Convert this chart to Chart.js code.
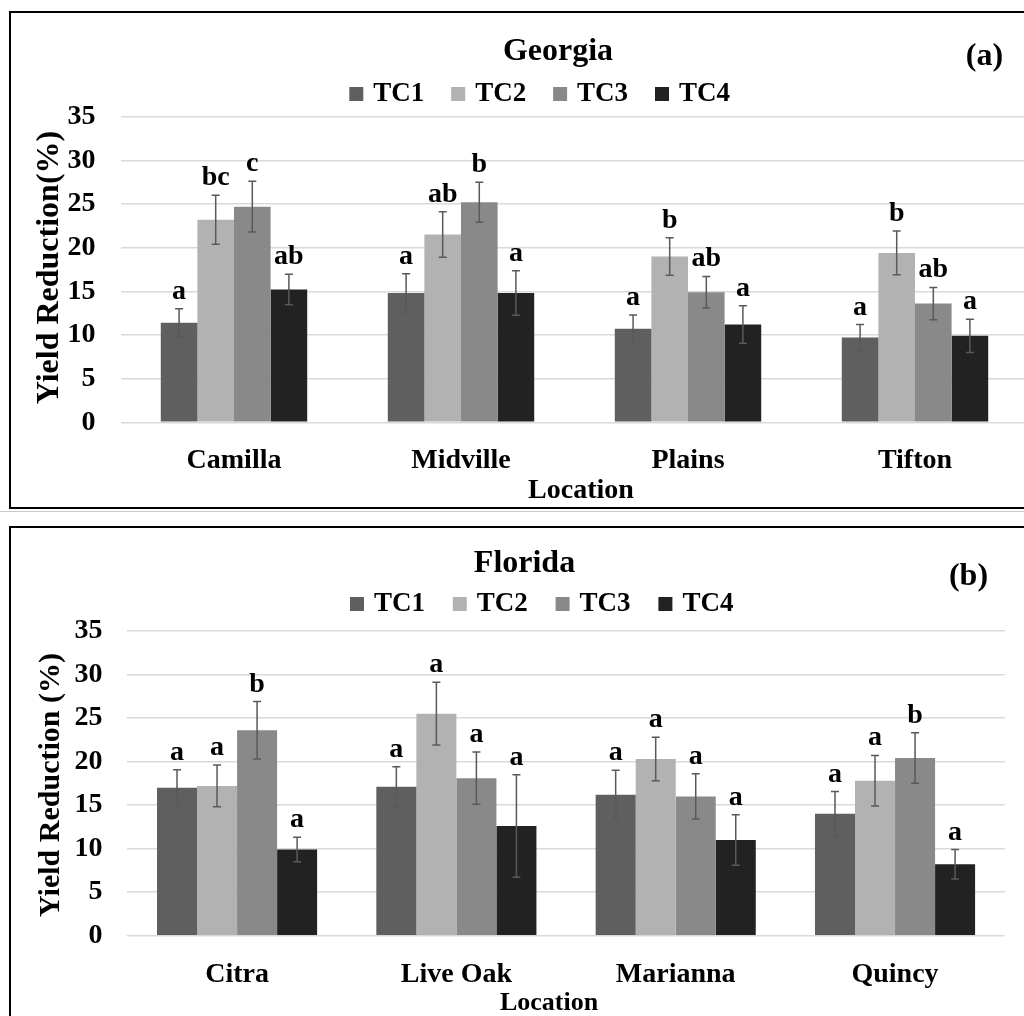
<!DOCTYPE html>
<html>
<head>
<meta charset="utf-8">
<script src="https://cdn.jsdelivr.net/npm/chart.js@4.4.1/dist/chart.umd.min.js"></script>
<style>
  html, body { margin: 0; padding: 0; background: #fff; overflow: hidden; width: 1024px; height: 1016px; }
  canvas { position: absolute; left: 0; }
  .frame { position: absolute; border: 2px solid #000; box-sizing: border-box; pointer-events: none; }
  .sep { position: absolute; left: 0; top: 511px; width: 1024px; height: 1px; background: #c8c8c8; }
</style>
</head>
<body>
<canvas id="georgia" width="1040" height="510" style="top:0"></canvas>
<canvas id="florida" width="1040" height="504" style="top:512px"></canvas>
<div class="frame" style="left:9px;top:11px;width:1100px;height:498px"></div>
<div class="sep"></div>
<div class="frame" style="left:9px;top:526px;width:1100px;height:600px"></div>
<script>
// Shared series names, fills and value axis ticks
const seriesNames = ['TC1', 'TC2', 'TC3', 'TC4'];
const seriesColors = ['#5f5f5f', '#b2b2b2', '#898989', '#222222'];
const yTicks = [0, 5, 10, 15, 20, 25, 30, 35];

// Georgia: yield reduction (%) by location, mean and error per treatment
const gaLocations = ['Camilla', 'Midville', 'Plains', 'Tifton'];
const gaTC1 = [11.4, 14.8, 10.7, 9.7];
const gaTC2 = [23.2, 21.5, 19.0, 19.4];
const gaTC3 = [24.7, 25.2, 14.9, 13.6];
const gaTC4 = [15.2, 14.8, 11.2, 9.9];
const gaErrTC1 = [1.6, 2.2, 1.6, 1.5];
const gaErrTC2 = [2.8, 2.6, 2.15, 2.5];
const gaErrTC3 = [2.9, 2.3, 1.8, 1.85];
const gaErrTC4 = [1.75, 2.55, 2.15, 1.9];
const gaLetTC1 = ['a', 'a', 'a', 'a'];
const gaLetTC2 = ['bc', 'ab', 'b', 'b'];
const gaLetTC3 = ['c', 'b', 'ab', 'ab'];
const gaLetTC4 = ['ab', 'a', 'a', 'a'];

// Florida: yield reduction (%) by location, mean and error per treatment
const flLocations = ['Citra', 'Live Oak', 'Marianna', 'Quincy'];
const flTC1 = [17.0, 17.1, 16.2, 14.0];
const flTC2 = [17.2, 25.5, 20.3, 17.8];
const flTC3 = [23.6, 18.1, 16.0, 20.4];
const flTC4 = [9.9, 12.6, 11.0, 8.2];
const flErrTC1 = [2.05, 2.3, 2.8, 2.55];
const flErrTC2 = [2.4, 3.6, 2.5, 2.9];
const flErrTC3 = [3.3, 3.0, 2.6, 2.9];
const flErrTC4 = [1.4, 5.9, 2.9, 1.7];
const flLetTC1 = ['a', 'a', 'a', 'a'];
const flLetTC2 = ['a', 'a', 'a', 'a'];
const flLetTC3 = ['b', 'a', 'a', 'b'];
const flLetTC4 = ['a', 'a', 'a', 'a'];

const FONT = "'Liberation Serif', 'Times New Roman', serif";

// Error whiskers plus significance letters above each bar
const errorBars = {
  id: 'errorBars',
  afterDatasetsDraw(chart) {
    const ctx = chart.ctx;
    const y = chart.scales.y;
    ctx.save();
    chart.data.datasets.forEach((ds, di) => {
      chart.getDatasetMeta(di).data.forEach((bar, i) => {
        const v = ds.data[i], e = ds.errors[i];
        const hi = y.getPixelForValue(v + e);
        const lo = y.getPixelForValue(v - e);
        ctx.strokeStyle = '#595959';
        ctx.lineWidth = 1.5;
        ctx.beginPath();
        ctx.moveTo(bar.x, hi); ctx.lineTo(bar.x, lo);
        ctx.moveTo(bar.x - 4, hi); ctx.lineTo(bar.x + 4, hi);
        ctx.moveTo(bar.x - 4, lo); ctx.lineTo(bar.x + 4, lo);
        ctx.stroke();
        ctx.fillStyle = '#000';
        ctx.font = 'bold 28px ' + FONT;
        ctx.textAlign = 'center';
        ctx.textBaseline = 'alphabetic';
        ctx.fillText(ds.letters[i], bar.x, hi - 10);
      });
    });
    ctx.restore();
  }
};

// Title, panel tag, legend row and axis titles
const decor = {
  id: 'decor',
  afterDraw(chart, args, o) {
    const ctx = chart.ctx;
    ctx.save();
    ctx.fillStyle = '#000';
    ctx.textBaseline = 'alphabetic';
    ctx.textAlign = 'center';
    ctx.font = 'bold 32px ' + FONT;
    ctx.fillText(o.title, o.titleX, o.titleY);
    ctx.fillText(o.tag, o.tagX, o.tagY);

    ctx.font = 'bold 27px ' + FONT;
    ctx.textAlign = 'left';
    chart.data.datasets.forEach((ds, i) => {
      const x = o.legendX + i * o.legendStep;
      ctx.fillStyle = ds.backgroundColor;
      ctx.fillRect(x, o.legendY - 14, 14, 14);
      ctx.fillStyle = '#000';
      ctx.fillText(ds.label, x + 24, o.legendY);
    });

    ctx.save();
    ctx.translate(o.yTitleX, o.yTitleY);
    ctx.rotate(-Math.PI / 2);
    ctx.textAlign = 'center';
    ctx.font = 'bold ' + o.yTitleSize + 'px ' + FONT;
    ctx.fillText(o.yTitle, 0, 0);
    ctx.restore();

    ctx.textAlign = 'center';
    ctx.font = 'bold ' + o.xTitleSize + 'px ' + FONT;
    ctx.fillText(o.xTitle, o.xTitleX, o.xTitleY);
    ctx.restore();
  }
};

function buildPanel(id, labels, values, errors, letters, catPct, padding, decorOpts) {
  return new Chart(document.getElementById(id), {
    type: 'bar',
    data: {
      labels: labels,
      datasets: seriesNames.map((name, i) => ({
        label: name,
        data: values[i],
        errors: errors[i],
        letters: letters[i],
        backgroundColor: seriesColors[i],
        borderWidth: 0,
        barPercentage: 1,
        categoryPercentage: catPct
      }))
    },
    options: {
      responsive: false,
      animation: false,
      devicePixelRatio: 1,
      layout: { padding: padding },
      plugins: {
        legend: { display: false },
        title: { display: false },
        tooltip: { enabled: false },
        decor: decorOpts
      },
      scales: {
        x: {
          grid: { display: false },
          border: { display: false },
          ticks: { color: '#000', padding: 14, font: { family: FONT, size: 28, weight: 'bold' } },
          afterFit(s) { s.height = 70; }
        },
        y: {
          min: yTicks[0],
          max: yTicks[yTicks.length - 1],
          afterBuildTicks(s) { s.ticks = yTicks.map(v => ({ value: v })); },
          ticks: { color: '#000', padding: 25, font: { family: FONT, size: 28, weight: 'bold' } },
          grid: { color: '#d9d9d9', lineWidth: 1.5, drawTicks: false },
          border: { display: false },
          afterFit(s) { s.width = 60; }
        }
      }
    },
    plugins: [errorBars, decor]
  });
}

buildPanel('georgia', gaLocations,
  [gaTC1, gaTC2, gaTC3, gaTC4],
  [gaErrTC1, gaErrTC2, gaErrTC3, gaErrTC4],
  [gaLetTC1, gaLetTC2, gaLetTC3, gaLetTC4],
  0.645,
  { left: 60.5, top: 116.7, right: 11.5, bottom: 17.7 },
  { title: 'Georgia', titleX: 558, titleY: 60, tag: '(a)', tagX: 984.5, tagY: 65,
    legendX: 349.3, legendStep: 101.9, legendY: 101,
    yTitle: 'Yield Reduction(%)', yTitleX: 58, yTitleY: 267.5, yTitleSize: 32,
    xTitle: 'Location', xTitleX: 581, xTitleY: 498, xTitleSize: 28 });

buildPanel('florida', flLocations,
  [flTC1, flTC2, flTC3, flTC4],
  [flErrTC1, flErrTC2, flErrTC3, flErrTC4],
  [flLetTC1, flLetTC2, flLetTC3, flLetTC4],
  0.73,
  { left: 67.4, top: 119, right: 35.3, bottom: 10.3 },
  { title: 'Florida', titleX: 524.5, titleY: 60, tag: '(b)', tagX: 968.5, tagY: 73,
    legendX: 350, legendStep: 102.8, legendY: 99,
    yTitle: 'Yield Reduction (%)', yTitleX: 59, yTitleY: 273, yTitleSize: 30,
    xTitle: 'Location', xTitleX: 549, xTitleY: 498, xTitleSize: 26 });
</script>
</body>
</html>
